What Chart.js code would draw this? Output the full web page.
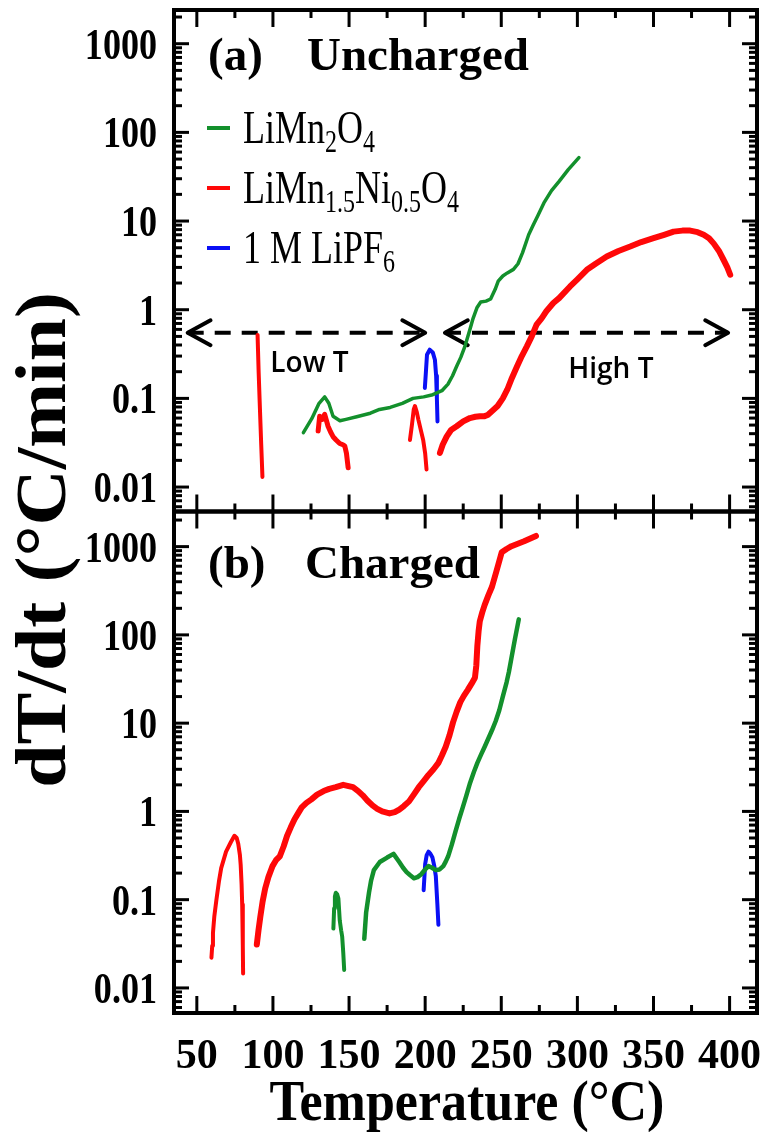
<!DOCTYPE html>
<html>
<head>
<meta charset="utf-8">
<title>dT/dt vs temperature</title>
<script src="https://cdn.jsdelivr.net/npm/chart.js@4.4.1/dist/chart.umd.min.js"></script>
<style>
  html, body { margin: 0; padding: 0; background: #fff; }
  #wrap { width: 764px; height: 1132px; }
</style>
</head>
<body>
<div id="wrap"><canvas id="chart" width="764" height="1132"></canvas></div>
<script>
// temperature (°C) / dT/dt (°C/min)

// (a) uncharged
const aGreenT = [120, 125.5, 130.3, 134, 136.7, 139.5, 144, 148, 155, 164, 170, 177, 185, 192, 199, 205, 211, 215, 218, 220.7, 223.4, 226, 229.4, 231.5, 234, 236.5, 240, 243, 246, 248, 251, 254, 258, 261, 264, 268, 271, 274, 278, 283, 288, 294, 301];
const aGreenV = [0.041, 0.059, 0.088, 0.104, 0.088, 0.063, 0.056, 0.058, 0.062, 0.068, 0.075, 0.079, 0.088, 0.1, 0.104, 0.11, 0.122, 0.145, 0.18, 0.23, 0.29, 0.38, 0.6, 0.8, 1.05, 1.22, 1.25, 1.32, 1.7, 2.1, 2.4, 2.6, 2.85, 3.3, 4.4, 7, 9, 11.5, 16, 22, 28, 38, 52];

const aRed1T = [89.9, 90.6, 91.3, 92.3, 93.1];
const aRed1V = [0.52, 0.2, 0.09, 0.03, 0.013];
const aRed2T = [129.7, 130.7, 132.5, 134, 136.2, 137.8, 139.5, 141.5, 143.9, 146, 147.2, 148.3, 149.4];
const aRed2V = [0.043, 0.063, 0.058, 0.066, 0.0485, 0.042, 0.037, 0.034, 0.031, 0.03, 0.029, 0.024, 0.0165];
const aRed3T = [190, 191.3, 192.5, 193.3, 194.5, 195.5, 197, 198.7, 200, 200.9];
const aRed3V = [0.034, 0.05, 0.075, 0.082, 0.07, 0.058, 0.045, 0.034, 0.024, 0.0158];
const aRed4T = [209.7, 211.5, 214.1, 217, 220.7, 225, 229.4, 233, 236, 239, 241.1, 244, 247.6, 251, 254, 257, 260.4, 263.5, 266.8, 270, 273.2, 276.5, 279.6, 284.2, 288, 295.2, 300, 306.2, 312, 319.3, 327, 334.7, 342, 350, 357, 363.2, 369, 374.1, 379, 383, 386.5, 389.5, 393, 396, 398.5, 400.4];
const aRed4V = [0.0243, 0.03, 0.037, 0.044, 0.0485, 0.055, 0.06, 0.062, 0.063, 0.063, 0.065, 0.072, 0.082, 0.1, 0.126, 0.17, 0.23, 0.3, 0.386, 0.5, 0.68, 0.8, 0.96, 1.19, 1.35, 1.83, 2.2, 2.82, 3.3, 3.98, 4.6, 5.16, 5.8, 6.4, 7, 7.6, 7.8, 7.8, 7.5, 7, 6.4, 5.6, 4.6, 3.66, 3, 2.48];

const aBlueT = [199.8, 200.5, 201.2, 203, 205, 206.4, 207.2, 207.7, 208.1];
const aBlueV = [0.131, 0.2, 0.31, 0.354, 0.33, 0.273, 0.18, 0.1, 0.055];

// (b) charged
const bRed1T = [59.6, 60.1, 60.6, 61.5, 62.8, 64.5, 66, 69.2, 72.4, 74.7, 76.2, 77.2, 78.3, 78.8, 79.4, 79.8, 80.2, 80.4];
const bRed1V = [0.022, 0.03, 0.042, 0.065, 0.098, 0.16, 0.228, 0.35, 0.45, 0.53, 0.5, 0.43, 0.32, 0.25, 0.15, 0.088, 0.03, 0.0146];
const bRed2T = [89.4, 90.5, 91.7, 93.2, 94.9, 97, 99.7, 102, 104.5, 107, 109.3, 111.7, 114.1, 116.5, 118.9, 122, 125.3, 129, 133.3, 137, 141.3, 146.2, 149, 152.6, 156, 159, 162, 165.4, 168.5, 171.8, 176.6, 180, 183, 186, 189.4, 192.5, 195.8, 199, 202.2, 205.5, 208.7, 211, 213.5, 216, 218.3, 220.7, 223.1, 225.5, 228, 230.5, 232.7, 233.6, 234.3, 235.1, 235.9, 237.5, 239.1, 241.5, 243.9, 247, 250.3, 253.5, 256.7, 265, 272.8];
const bRed2V = [0.031, 0.045, 0.064, 0.095, 0.134, 0.18, 0.24, 0.28, 0.31, 0.4, 0.53, 0.66, 0.81, 0.95, 1.11, 1.25, 1.37, 1.55, 1.7, 1.8, 1.88, 2, 1.95, 1.88, 1.7, 1.52, 1.33, 1.17, 1.07, 1, 0.95, 0.98, 1.05, 1.15, 1.3, 1.55, 1.88, 2.2, 2.59, 3, 3.55, 4.3, 5.4, 7.3, 10.2, 13.5, 17.3, 20.5, 23.8, 28, 32.7, 45, 76, 110, 143, 180, 219, 280, 351, 540, 863, 940, 1011, 1150, 1320];

const bGreen1T = [139.7, 140.2, 140.7, 141.3, 142.2, 143, 143.9, 144.8, 145.5, 146.2, 146.8];
const bGreen1V = [0.047, 0.08, 0.109, 0.12, 0.115, 0.103, 0.058, 0.045, 0.038, 0.025, 0.016];
const bGreen2T = [160, 161.2, 163.1, 164.5, 166.3, 170.2, 175, 179.2, 183, 185.5, 187.8, 190, 192.6, 195, 197.4, 200, 202.2, 204.5, 207, 209.5, 211.9, 213.5, 215.1, 217.5, 219.9, 222.3, 224.7, 227, 229.5, 232, 234.3, 236.7, 239.1, 241.5, 243.9, 246.3, 248.7, 251, 253.5, 255, 256.7, 259, 261.5];
const bGreen2V = [0.036, 0.071, 0.12, 0.165, 0.216, 0.267, 0.3, 0.33, 0.267, 0.23, 0.205, 0.19, 0.175, 0.18, 0.194, 0.22, 0.24, 0.23, 0.216, 0.22, 0.24, 0.27, 0.31, 0.42, 0.59, 0.82, 1.11, 1.5, 2.1, 2.8, 3.55, 4.4, 5.4, 6.7, 8.3, 10.5, 14, 20, 29, 38, 55, 90, 150];

const bBlueT = [199, 199.5, 200, 201, 202.2, 203.5, 204.8, 206, 207, 208, 208.7];
const bBlueV = [0.128, 0.18, 0.253, 0.32, 0.35, 0.33, 0.3, 0.24, 0.185, 0.09, 0.052];

// low T / high T arrows in panel (a)
const arrowV = 0.55;
const lowArrowT = [44, 200];
const highArrowT = [213, 399];

// axes
const xTicks = [50, 100, 150, 200, 250, 300, 350, 400];
const yTicks = [0.01, 0.1, 1, 10, 100, 1000];
const yTickLabels = ["0.01", "0.1", "1", "10", "100", "1000"];

const GREEN = "#13902c";
const RED = "#ff0808";
const BLUE = "#0a10f5";
const SERIF = '"Liberation Serif", "Times New Roman", serif';
const SANS = '"Open Sans", "Liberation Sans", sans-serif';

const legendItems = [
    { color: GREEN, parts: [["LiMn", 0], ["2", 1], ["O", 0], ["4", 1]] },
    { color: RED, parts: [["LiMn", 0], ["1.5", 1], ["Ni", 0], ["0.5", 1], ["O", 0], ["4", 1]] },
    { color: BLUE, parts: [["1 M LiPF", 0], ["6", 1]] },
];

function pts(ts, vs) {
    return ts.map((t, i) => ({ x: t, y: vs[i] }));
}

function series(ts, vs, color, width, axis) {
    return {
        data: pts(ts, vs),
        yAxisID: axis,
        borderColor: color,
        borderWidth: width,
        pointRadius: 0,
        tension: 0,
        borderJoinStyle: "round",
        borderCapStyle: "round",
    };
}

// chevron "<" or ">" at an arrow tip, dir = -1 points left
function chevron(tip, dir) {
    const back = tip - dir * 15;
    return series([back, tip, back], [arrowV * 1.38, arrowV, arrowV / 1.38], "#000", 4, "ya");
}

function drawText(ctx, s, x, y, font, align, sx, sy) {
    ctx.save();
    ctx.translate(x, y);
    ctx.scale(sx, sy);
    ctx.font = font;
    ctx.textAlign = align;
    ctx.textBaseline = "alphabetic";
    ctx.fillText(s, 0, 0);
    ctx.restore();
}

function line(ctx, x1, y1, x2, y2) {
    ctx.beginPath();
    ctx.moveTo(x1, y1);
    ctx.lineTo(x2, y2);
    ctx.stroke();
}

const frame = {
    id: "frame",
    afterDraw(chart) {
        const ctx = chart.ctx;
        const x = chart.scales.x;
        const area = chart.chartArea;
        const panels = [chart.scales.ya, chart.scales.yb];

        ctx.save();
        ctx.strokeStyle = "#000";
        ctx.fillStyle = "#000";

        panels.forEach((y) => {
            ctx.lineWidth = 3;
            // log ticks on both sides, pointing in
            for (let d = -3; d <= 3; d++) {
                for (let m = 1; m <= 9; m++) {
                    const v = m * Math.pow(10, d);
                    if (v < y.min || v > y.max) continue;
                    const py = y.getPixelForValue(v);
                    const len = m === 1 ? 15 : 8;
                    line(ctx, area.left, py, area.left + len, py);
                    line(ctx, area.right, py, area.right - len, py);
                }
            }
            // temperature ticks on top and bottom, pointing in
            for (let t = 50; t <= 400; t += 25) {
                const px = x.getPixelForValue(t);
                const len = t % 50 === 0 ? 17 : 8;
                line(ctx, px, y.top, px, y.top + len);
                line(ctx, px, y.bottom, px, y.bottom - len);
            }
            ctx.lineWidth = 4;
            ctx.strokeRect(area.left, y.top, area.right - area.left, y.bottom - y.top);

            yTicks.forEach((v, i) => {
                drawText(ctx, yTickLabels[i], 157, y.getPixelForValue(v) + 15,
                    "bold 44px " + SERIF, "right", 0.82, 1);
            });
        });

        xTicks.forEach((t) => {
            drawText(ctx, String(t), x.getPixelForValue(t), 1068, "bold 42px " + SERIF, "center", 1, 1);
        });

        // axis titles
        drawText(ctx, "Temperature (°C)", 467, 1120, "bold 52px " + SERIF, "center", 1, 1.08);
        ctx.save();
        ctx.translate(65, 540);
        ctx.rotate(-Math.PI / 2);
        drawText(ctx, "dT/dt (°C/min)", 0, 0, "bold 72px " + SERIF, "center", 1.08, 1);
        ctx.restore();

        // panel captions
        drawText(ctx, "(a)", 208, 70, "bold 47px " + SERIF, "left", 1, 1);
        drawText(ctx, "Uncharged", 307, 70, "bold 47px " + SERIF, "left", 1, 1);
        drawText(ctx, "(b)", 208, 578, "bold 47px " + SERIF, "left", 1, 1);
        drawText(ctx, "Charged", 305, 578, "bold 47px " + SERIF, "left", 1, 1);

        // legend with subscripts
        legendItems.forEach((item, i) => {
            const cy = 128 + i * 60;
            ctx.strokeStyle = item.color;
            ctx.lineWidth = 4;
            line(ctx, 207, cy, 230, cy);
            ctx.save();
            ctx.translate(243, cy + 15);
            ctx.scale(1, 1.3);
            ctx.fillStyle = "#000";
            ctx.textBaseline = "alphabetic";
            let cx = 0;
            item.parts.forEach(([s, sub]) => {
                ctx.font = (sub ? "24px " : "36px ") + SERIF;
                ctx.fillText(s, cx, sub ? 7 : 0);
                cx += ctx.measureText(s).width;
            });
            ctx.restore();
        });

        // Low T / High T
        const ya = chart.scales.ya;
        ctx.fillStyle = "#000";
        drawText(ctx, "Low T", x.getPixelForValue(124), ya.getPixelForValue(0.26) + 10,
            "600 28px " + SANS, "center", 1, 1);
        drawText(ctx, "High T", x.getPixelForValue(322), ya.getPixelForValue(0.22) + 10,
            "600 28px " + SANS, "center", 1, 1);

        ctx.restore();
    },
};

const datasets = [
    // (a)
    series(aGreenT, aGreenV, GREEN, 3.5, "ya"),
    series(aRed1T, aRed1V, RED, 4, "ya"),
    series(aRed2T, aRed2V, RED, 5, "ya"),
    series(aRed3T, aRed3V, RED, 4, "ya"),
    series(aRed4T, aRed4V, RED, 6, "ya"),
    series(aBlueT, aBlueV, BLUE, 4, "ya"),
    // (b)
    series(bRed1T, bRed1V, RED, 4, "yb"),
    series(bRed2T, bRed2V, RED, 6, "yb"),
    series(bGreen1T, bGreen1V, GREEN, 4, "yb"),
    series(bGreen2T, bGreen2V, GREEN, 4.5, "yb"),
    series(bBlueT, bBlueV, BLUE, 4, "yb"),
];

// dashed arrows
[lowArrowT, highArrowT].forEach((ends) => {
    const ds = series(ends, [arrowV, arrowV], "#000", 4, "ya");
    ds.borderDash = [16, 11];
    ds.borderCapStyle = "butt";
    datasets.push(ds);
    datasets.push(chevron(ends[0], -1));
    datasets.push(chevron(ends[1], 1));
});

const hidden = {
    grid: { display: false },
    border: { display: false },
    ticks: { display: false },
};

new Chart(document.getElementById("chart"), {
    type: "line",
    data: { datasets: datasets },
    options: {
        responsive: false,
        animation: false,
        devicePixelRatio: 1,
        layout: { padding: { top: 10, right: 7, left: 0, bottom: 0 } },
        plugins: { legend: { display: false }, tooltip: { enabled: false } },
        scales: {
            x: {
                type: "linear",
                min: 35,
                max: 418,
                ...hidden,
                afterFit: (s) => { s.height = 119; },
            },
            yb: {
                type: "logarithmic",
                position: "left",
                stack: "dt",
                stackWeight: 1,
                min: 0.0052,
                max: 2500,
                ...hidden,
                afterFit: (s) => { s.width = 174; },
            },
            ya: {
                type: "logarithmic",
                position: "left",
                stack: "dt",
                stackWeight: 1,
                min: 0.0053,
                max: 2400,
                ...hidden,
                afterFit: (s) => { s.width = 174; },
            },
        },
    },
    plugins: [frame],
});
</script>
</body>
</html>
